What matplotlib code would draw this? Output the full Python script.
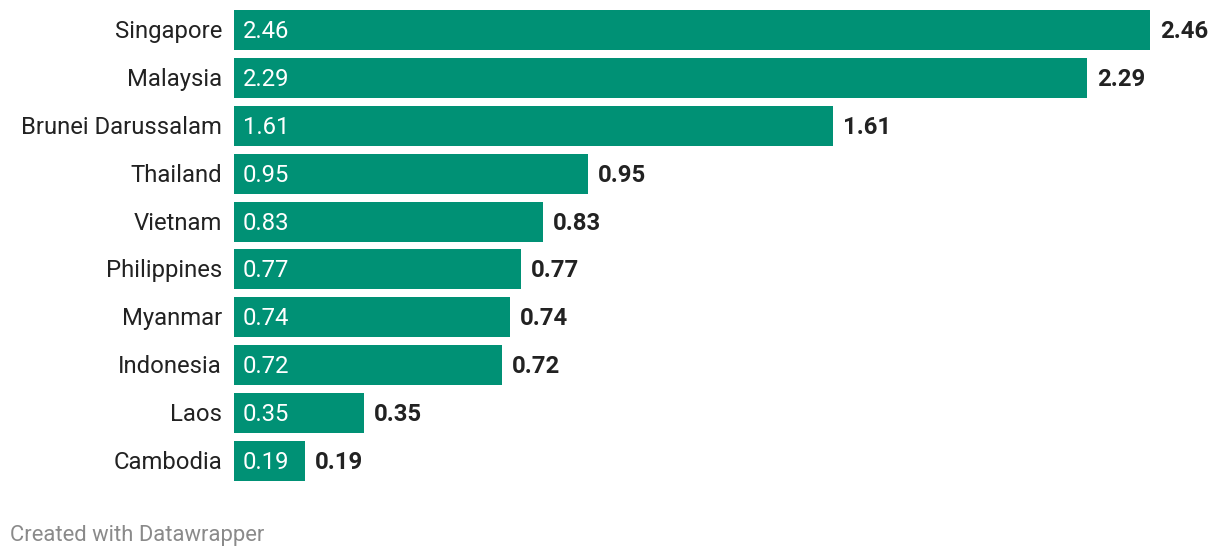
import matplotlib.pyplot as plt
from matplotlib.transforms import offset_copy

plt.rcParams['font.family'] = ['Roboto', 'DejaVu Sans']

countries = ['Singapore', 'Malaysia', 'Brunei Darussalam', 'Thailand', 'Vietnam',
             'Philippines', 'Myanmar', 'Indonesia', 'Laos', 'Cambodia']
values = [2.46, 2.29, 1.61, 0.95, 0.83, 0.77, 0.74, 0.72, 0.35, 0.19]

bar_color = '#009175'
text_color = '#222222'

W, H = 1220, 558
fig = plt.figure(figsize=(W / 100, H / 100), dpi=100)
# axes placed in pixel terms: bars from x=234 to x=1150, y from 10 to 481
ax = fig.add_axes([234 / W, (H - 481) / H, 916 / W, 471 / H])

pos = list(range(len(countries)))
ax.barh(pos, values, height=40 / 48, color=bar_color)
ax.set_xlim(0, max(values))
ax.set_ylim(len(countries) - 1 + 20 / 48, -20 / 48)
ax.axis('off')

lab_tr = offset_copy(ax.transData, fig=fig, x=-12, y=1, units='dots')
in_tr = offset_copy(ax.transData, fig=fig, x=9, y=1, units='dots')
out_tr = offset_copy(ax.transData, fig=fig, x=10, y=1, units='dots')
for i, (c, v) in enumerate(zip(countries, values)):
    ax.text(0, i, c, transform=lab_tr, ha='right', va='center_baseline',
            fontsize=17.2, color=text_color)
    ax.text(0, i, f'{v:.2f}', transform=in_tr, ha='left', va='center_baseline',
            fontsize=17.2, color='white')
    ax.text(v, i, f'{v:.2f}', transform=out_tr, ha='left', va='center_baseline',
            fontsize=17.2, color=text_color, fontweight='bold')

fig.text(10 / W, 1 - 535 / H, 'Created with Datawrapper', ha='left', va='center',
         fontsize=15.8, color='#8a8a8a')

fig.savefig('out.png', dpi=100, facecolor='white')
